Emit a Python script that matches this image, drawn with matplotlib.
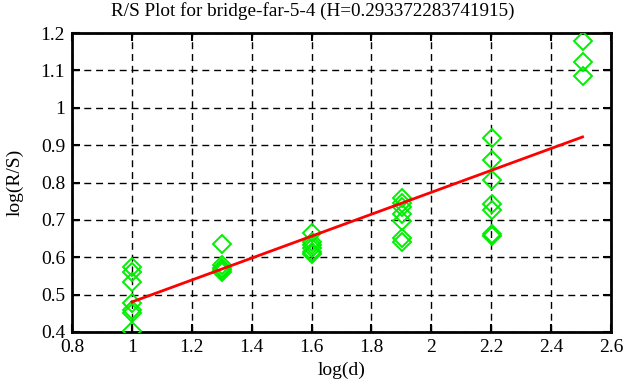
import numpy as np
import matplotlib.pyplot as plt

plt.rcParams['font.family'] = ['Liberation Serif', 'DejaVu Serif']

# log10 of block size and log(R/S) readings per block size
log_d = [1.0, 1.301, 1.602, 1.903, 2.204, 2.505]
log_rs = [
    [0.573, 0.56, 0.534, 0.477, 0.458, 0.45, 0.402],
    [0.636, 0.578, 0.572, 0.566, 0.561],
    [0.664, 0.64, 0.632, 0.624, 0.615, 0.609],
    [0.758, 0.745, 0.735, 0.717, 0.697, 0.652, 0.642],
    [0.92, 0.86, 0.806, 0.742, 0.727, 0.662, 0.656],
    [1.178, 1.122, 1.086],
]
H = 0.293372283741915
intercept = 0.187
title = 'R/S Plot for bridge-far-5-4 (H=0.293372283741915)'

xs = np.concatenate([[x] * len(v) for x, v in zip(log_d, log_rs)])
ys = np.concatenate(log_rs)

fig = plt.figure(figsize=(6.26, 3.87), dpi=100)
ax = fig.add_axes([72 / 626, 1 - 332 / 387, (611 - 72) / 626, (332 - 33) / 387])

ax.plot(xs, ys, linestyle='none', marker='D', markersize=9.5, markerfacecolor='none',
        markeredgecolor='#00ee00', markeredgewidth=1.4, zorder=3)
fx = np.array([log_d[0], log_d[-1]])
ax.plot(fx, intercept + H * fx, color='#ff0000', lw=2, zorder=4)

ax.set_xlim(0.8, 2.6)
ax.set_ylim(0.4, 1.2)
ax.set_xticks(np.arange(0.8, 2.61, 0.2))
ax.set_xticklabels(['0.8', '1', '1.2', '1.4', '1.6', '1.8', '2', '2.2', '2.4', '2.6'])
ax.set_yticks(np.arange(0.4, 1.21, 0.1))
ax.set_yticklabels(['0.4', '0.5', '0.6', '0.7', '0.8', '0.9', '1', '1.1', '1.2'])
ax.grid(True, color='black', linestyle=(0, (5, 3.5)), linewidth=1)
ax.tick_params(direction='in', length=6, width=1.5, top=True, right=True, labelsize=14, pad=5)
for s in ax.spines.values():
    s.set_linewidth(2)

fig.text(0.5, 1 - 11 / 387, title, fontsize=13.8, ha='center', va='center')
ax.set_xlabel('log(d)', fontsize=14, labelpad=4)
ax.set_ylabel('log(R/S)', fontsize=14, labelpad=12)

fig.savefig('out.png', dpi=100)
